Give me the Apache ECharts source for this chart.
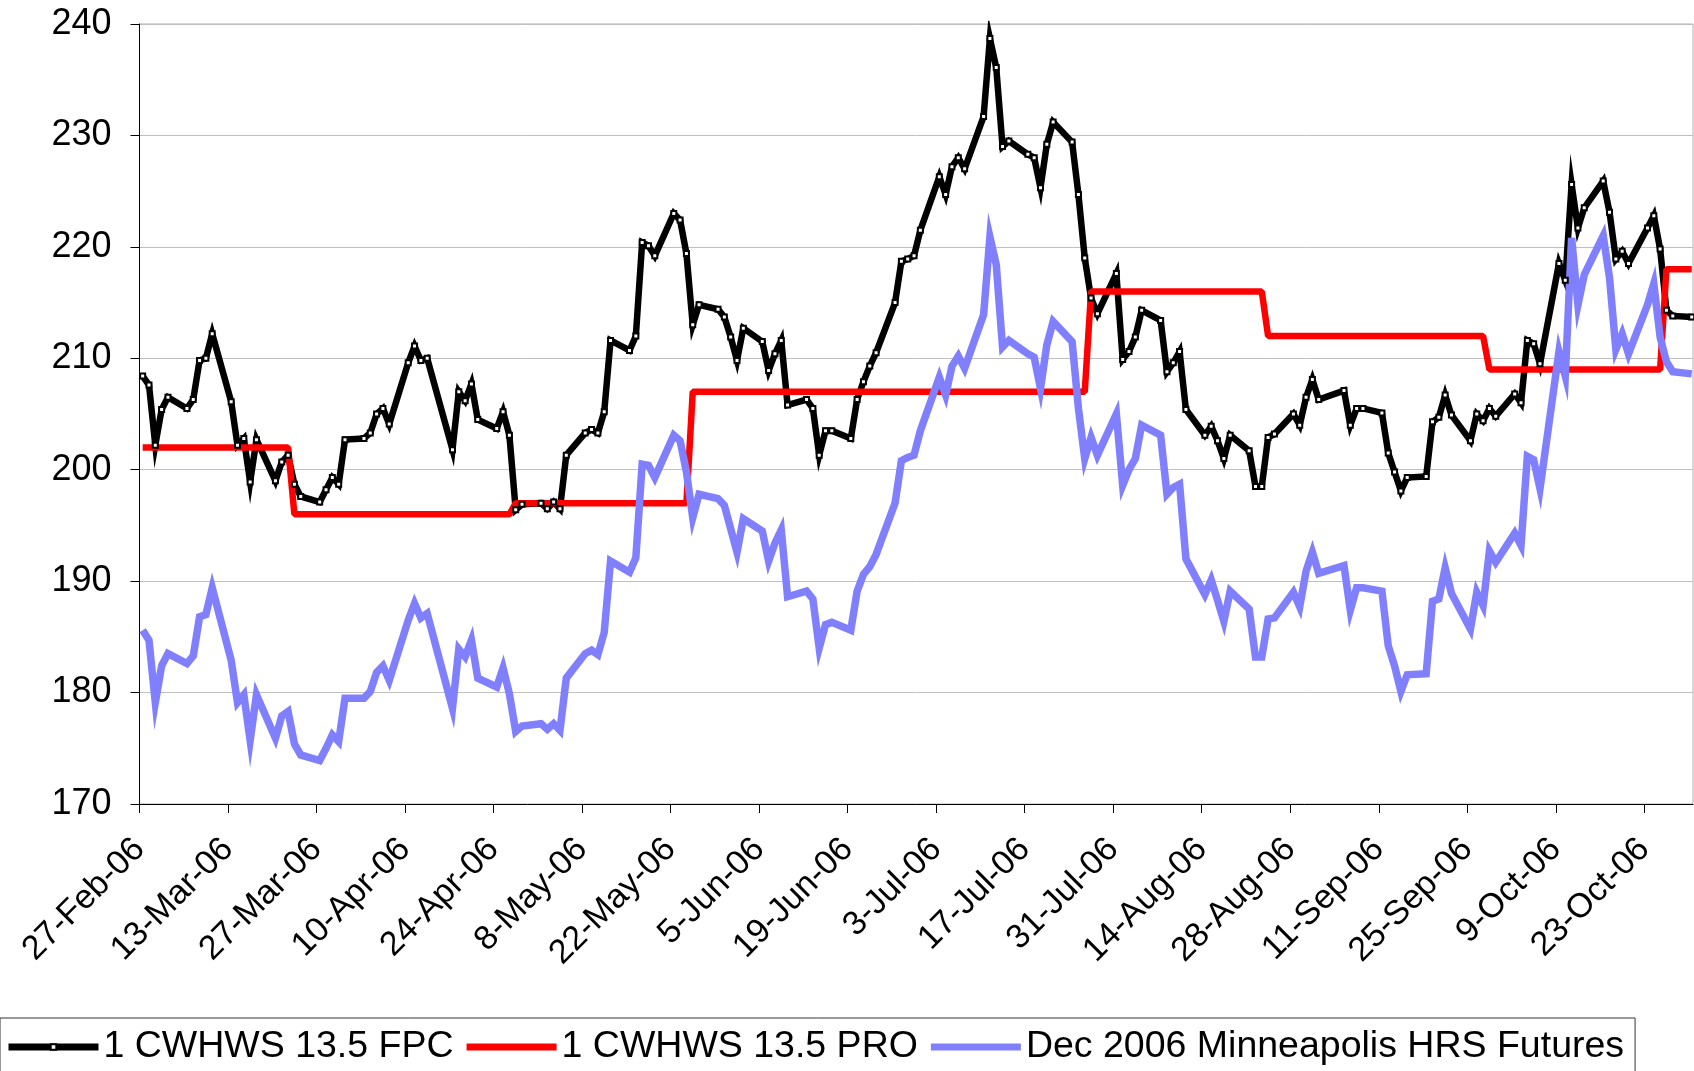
<!DOCTYPE html>
<html>
<head>
<meta charset="utf-8">
<title>CWHWS 13.5 vs Dec 2006 Minneapolis HRS Futures</title>
<script src="https://cdn.jsdelivr.net/npm/echarts@6/dist/echarts.min.js"></script>
<style>
    html, body { margin: 0; padding: 0; background: #ffffff; }
    #chart { width: 1694px; height: 1071px; }
</style>
</head>
<body>
<div id="chart"></div>
<script>
// trading days (one row per week)
var dates = [
    '2006-02-27', '2006-02-28', '2006-03-01', '2006-03-02', '2006-03-03',
    '2006-03-06', '2006-03-07', '2006-03-08', '2006-03-09', '2006-03-10',
    '2006-03-13', '2006-03-14', '2006-03-15', '2006-03-16', '2006-03-17',
    '2006-03-20', '2006-03-21', '2006-03-22', '2006-03-23', '2006-03-24',
    '2006-03-27', '2006-03-28', '2006-03-29', '2006-03-30', '2006-03-31',
    '2006-04-03', '2006-04-04', '2006-04-05', '2006-04-06', '2006-04-07',
    '2006-04-10', '2006-04-11', '2006-04-12', '2006-04-13',
    '2006-04-17', '2006-04-18', '2006-04-19', '2006-04-20', '2006-04-21',
    '2006-04-24', '2006-04-25', '2006-04-26', '2006-04-27', '2006-04-28',
    '2006-05-01', '2006-05-02', '2006-05-03', '2006-05-04', '2006-05-05',
    '2006-05-08', '2006-05-09', '2006-05-10', '2006-05-11', '2006-05-12',
    '2006-05-15', '2006-05-16', '2006-05-17', '2006-05-18', '2006-05-19',
    '2006-05-22', '2006-05-23', '2006-05-24', '2006-05-25', '2006-05-26',
    '2006-05-29', '2006-05-30', '2006-05-31', '2006-06-01', '2006-06-02',
    '2006-06-05', '2006-06-06', '2006-06-07', '2006-06-08', '2006-06-09',
    '2006-06-12', '2006-06-13', '2006-06-14', '2006-06-15', '2006-06-16',
    '2006-06-19', '2006-06-20', '2006-06-21', '2006-06-22', '2006-06-23',
    '2006-06-26', '2006-06-27', '2006-06-28', '2006-06-29', '2006-06-30',
    '2006-07-03', '2006-07-04', '2006-07-05', '2006-07-06', '2006-07-07',
    '2006-07-10', '2006-07-11', '2006-07-12', '2006-07-13', '2006-07-14',
    '2006-07-17', '2006-07-18', '2006-07-19', '2006-07-20', '2006-07-21',
    '2006-07-24', '2006-07-25', '2006-07-26', '2006-07-27', '2006-07-28',
    '2006-07-31', '2006-08-01', '2006-08-02', '2006-08-03', '2006-08-04',
    '2006-08-07', '2006-08-08', '2006-08-09', '2006-08-10', '2006-08-11',
    '2006-08-14', '2006-08-15', '2006-08-16', '2006-08-17', '2006-08-18',
    '2006-08-21', '2006-08-22', '2006-08-23', '2006-08-24', '2006-08-25',
    '2006-08-28', '2006-08-29', '2006-08-30', '2006-08-31', '2006-09-01',
    '2006-09-05', '2006-09-06', '2006-09-07', '2006-09-08',
    '2006-09-11', '2006-09-12', '2006-09-13', '2006-09-14', '2006-09-15',
    '2006-09-18', '2006-09-19', '2006-09-20', '2006-09-21', '2006-09-22',
    '2006-09-25', '2006-09-26', '2006-09-27', '2006-09-28', '2006-09-29',
    '2006-10-02', '2006-10-03', '2006-10-04', '2006-10-05', '2006-10-06',
    '2006-10-09', '2006-10-10', '2006-10-11', '2006-10-12', '2006-10-13',
    '2006-10-16', '2006-10-17', '2006-10-18', '2006-10-19', '2006-10-20',
    '2006-10-23', '2006-10-24', '2006-10-25', '2006-10-26', '2006-10-27',
    '2006-10-30'
];

// 1 CWHWS 13.5 FPC
var fpcValues = [
    208.4, 207.6, 202.2, 205.4, 206.5,
    205.5, 206.3, 209.8, 210.0, 212.2,
    206.1, 202.2, 202.8, 198.9, 202.7,
    199.0, 200.7, 201.3, 198.7, 197.6,
    197.1, 198.2, 199.3, 198.7, 202.7,
    202.8, 203.3, 205.0, 205.5, 204.1,
    209.6, 211.1, 209.8, 210.0,
    201.8, 207.0, 206.2, 207.7, 204.5,
    203.7, 205.2, 203.1, 196.4, 196.9,
    197.0, 196.5, 197.1, 196.5, 201.3,
    203.3, 203.6, 203.3, 205.2, 211.6,
    210.7, 212.0, 220.4, 220.1, 219.2,
    223.0, 222.4, 219.4, 213.0, 214.8,
    214.4, 213.7, 211.9, 209.8, 212.7,
    211.5, 208.9, 210.4, 211.6, 205.8,
    206.3, 205.5, 201.3, 203.5, 203.5,
    202.8, 206.3, 207.9, 209.3, 210.5,
    215.0, 218.7, 218.9, 219.2, 221.5,
    226.3, 224.7, 227.2, 228.0, 227.0,
    231.7, 238.7, 236.1, 229.0, 229.5,
    228.3, 228.0, 225.3, 229.2, 231.2,
    229.4, 224.7, 219.0, 215.4, 214.0,
    217.6, 209.9, 210.6, 211.9, 214.3,
    213.4, 208.8, 209.6, 210.6, 205.4,
    203.1, 203.9, 202.6, 201.0, 203.1,
    201.7, 198.5, 198.5, 202.9, 203.2,
    205.0, 204.0, 206.5, 208.1, 206.3,
    207.1, 204.0, 205.5, 205.5,
    205.1, 201.5, 199.8, 198.1, 199.3,
    199.4, 204.3, 204.7, 206.7, 204.9,
    202.6, 205.0, 204.4, 205.5, 204.8,
    206.8, 206.0, 211.6, 211.3, 209.5,
    218.5, 217.0, 225.6, 221.7, 223.5,
    225.9, 223.1, 218.9, 219.6, 218.5,
    221.7, 222.8, 219.8, 214.3, 213.8,
    213.7
];

// Dec 2006 Minneapolis HRS Futures
var futuresValues = [
    185.6, 184.7, 179.1, 182.4, 183.5,
    182.6, 183.3, 186.8, 187.0, 189.4,
    182.9, 179.1, 179.8, 175.7, 179.8,
    175.9, 177.9, 178.3, 175.4, 174.4,
    173.9, 175.0, 176.2, 175.6, 179.5,
    179.5, 180.1, 181.8, 182.4, 181.1,
    186.5, 188.0, 186.7, 187.1,
    178.6, 183.9, 183.2, 184.7, 181.3,
    180.5, 182.2, 179.9, 176.5, 177.0,
    177.2, 176.7, 177.2, 176.6, 181.3,
    183.5, 183.8, 183.4, 185.4, 191.8,
    190.8, 192.1, 200.5, 200.4, 199.3,
    203.1, 202.6, 199.8, 195.7, 197.8,
    197.4, 196.8, 194.7, 192.6, 195.6,
    194.5, 191.8, 193.4, 194.6, 188.6,
    189.1, 188.4, 184.0, 186.1, 186.3,
    185.6, 189.1, 190.6, 191.3, 192.4,
    197.0, 200.8, 201.1, 201.3, 203.5,
    208.3, 206.7, 209.3, 210.2, 209.1,
    213.9, 220.9, 218.4, 211.0, 211.6,
    210.4, 210.1, 207.3, 211.2, 213.3,
    211.5, 205.5, 201.0, 202.9, 201.3,
    205.0, 198.6, 200.0, 201.0, 204.0,
    203.1, 197.8, 198.4, 198.7, 192.0,
    188.8, 190.1, 188.3, 186.4, 189.1,
    187.5, 183.2, 183.2, 186.6, 186.7,
    189.0, 187.7, 190.9, 192.6, 190.7,
    191.4, 187.4, 189.4, 189.4,
    189.1, 184.2, 182.4, 180.1, 181.6,
    181.7, 188.2, 188.4, 191.2, 188.9,
    185.7, 189.0, 187.8, 192.7, 191.7,
    194.3, 193.2, 201.2, 200.9, 198.3,
    210.6, 208.4, 220.8, 214.8, 217.5,
    221.0, 217.2, 210.8, 212.2, 210.4,
    214.8, 216.7, 211.9, 209.7, 208.8,
    208.6
];

// 1 CWHWS 13.5 PRO: price level on the days it changes
var proDates = [
    '2006-02-27', '2006-03-22', '2006-03-23', '2006-04-26', '2006-04-27',
    '2006-05-24', '2006-05-25', '2006-07-26', '2006-07-27', '2006-08-23',
    '2006-08-24', '2006-09-27', '2006-09-28', '2006-10-25', '2006-10-26',
    '2006-10-30'
];
var proValues = [
    202, 202, 196, 196, 197,
    197, 207, 207, 216, 216,
    212, 212, 209, 209, 218,
    218
];

var monthNames = ['Jan', 'Feb', 'Mar', 'Apr', 'May', 'Jun', 'Jul', 'Aug', 'Sep', 'Oct', 'Nov', 'Dec'];

var DAY = 86400000;
var axisStart = Date.UTC(2006, 1, 27);

// points sit in the middle of their day, as on an Excel date axis
function toTime(s) {
    var p = s.split('-');
    return Date.UTC(+p[0], +p[1] - 1, +p[2]) + DAY / 2;
}

function pairs(xs, ys) {
    var out = [];
    for (var i = 0; i < xs.length; i++) {
        out.push([toTime(xs[i]), ys[i]]);
    }
    return out;
}

function dateLabel(v) {
    if (Math.round(v - axisStart) % (14 * DAY) !== 0) {
        return '';
    }
    var d = new Date(v);
    var yy = String(d.getUTCFullYear()).slice(2);
    return d.getUTCDate() + '-' + monthNames[d.getUTCMonth()] + '-' + yy;
}

var chart = echarts.init(document.getElementById('chart'));

var font = 'Liberation Sans, Arial, sans-serif';

var option = {
    animation: false,
    backgroundColor: '#ffffff',
    grid: {
        left: 139.5,
        right: 1,
        top: 24,
        bottom: 267,
        show: true,
        borderColor: '#b0b0b0',
        borderWidth: 1
    },
    legend: {
        left: 0,
        top: 1018,
        padding: [10, 11, 14, 5],
        itemWidth: 90,
        itemHeight: 7,
        itemGap: 9.5,
        borderColor: '#333333',
        borderWidth: 1,
        lineStyle: { width: 7 },
        textStyle: {
            fontFamily: font,
            fontSize: 37.5,
            color: '#000000'
        },
        data: ['1 CWHWS 13.5 FPC', '1 CWHWS 13.5 PRO', 'Dec 2006 Minneapolis HRS Futures']
    },
    xAxis: {
        type: 'value',
        min: axisStart,
        max: axisStart + 245.7 * DAY,
        interval: 14 * DAY,
        axisLine: { lineStyle: { color: '#000000', width: 1 } },
        axisTick: { length: 9, lineStyle: { color: '#000000' } },
        splitLine: { show: false },
        axisLabel: {
            rotate: 45,
            margin: 40,
            showMaxLabel: false,
            fontFamily: font,
            fontSize: 34,
            color: '#000000',
            formatter: dateLabel
        }
    },
    yAxis: {
        type: 'value',
        min: 170,
        max: 240,
        interval: 10,
        axisLine: { show: true, lineStyle: { color: '#000000', width: 1 } },
        axisTick: { show: true, length: 9, lineStyle: { color: '#000000' } },
        splitLine: { lineStyle: { color: '#c0c0c0', width: 1 } },
        axisLabel: {
            margin: 28,
            fontFamily: font,
            fontSize: 36,
            color: '#000000'
        }
    },
    series: [
        {
            name: '1 CWHWS 13.5 FPC',
            type: 'line',
            data: pairs(dates, fpcValues),
            symbol: 'rect',
            symbolSize: 5,
            showSymbol: true,
            itemStyle: { color: '#ffffff', borderColor: '#000000', borderWidth: 2 },
            lineStyle: { color: '#000000', width: 6.5, join: 'miter' }
        },
        {
            name: '1 CWHWS 13.5 PRO',
            type: 'line',
            data: pairs(proDates, proValues),
            symbol: 'circle',
            showSymbol: false,
            itemStyle: { color: '#ff0000' },
            lineStyle: { color: '#ff0000', width: 6.5 }
        },
        {
            name: 'Dec 2006 Minneapolis HRS Futures',
            type: 'line',
            data: pairs(dates, futuresValues),
            symbol: 'circle',
            showSymbol: false,
            itemStyle: { color: '#8080ff' },
            lineStyle: { color: '#8080ff', width: 7.5, join: 'miter' }
        }
    ]
};

chart.setOption(option);
</script>
</body>
</html>
